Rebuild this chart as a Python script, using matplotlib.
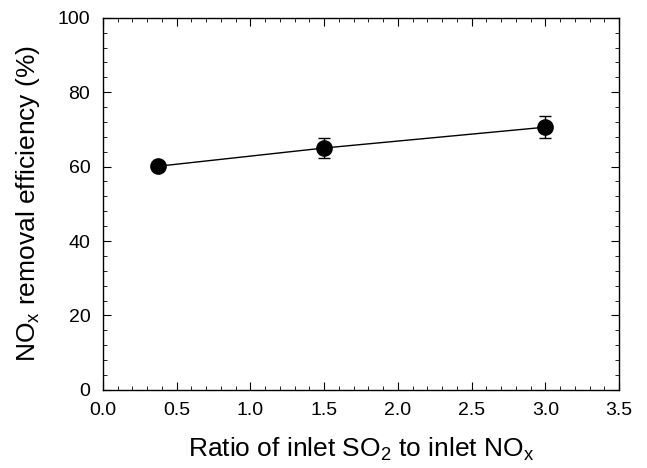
import matplotlib
matplotlib.use('Agg')
import matplotlib.pyplot as plt
from matplotlib.ticker import MultipleLocator

plt.rcParams['font.family'] = ['Liberation Sans', 'DejaVu Sans']

ratio = [0.375, 1.5, 3.0]
efficiency = [60.1, 65.0, 70.6]
err = [1.0, 2.7, 3.0]

fig = plt.figure(figsize=(6.47, 4.68), dpi=100)
ax = fig.add_axes([0.159, 0.167, 0.798, 0.795])

ax.errorbar(ratio, efficiency, yerr=err, fmt='o-', color='black', ms=11,
            lw=1.0, elinewidth=1.0, capsize=4, capthick=1.0)

ax.set_xlim(0, 3.5)
ax.set_ylim(0, 100)
ax.xaxis.set_major_locator(MultipleLocator(0.5))
ax.xaxis.set_minor_locator(MultipleLocator(0.1))
ax.yaxis.set_major_locator(MultipleLocator(20))
ax.yaxis.set_minor_locator(MultipleLocator(4))
ax.tick_params(which='both', direction='in', top=True, right=True, labelsize=14)
ax.tick_params(which='major', length=6)
ax.tick_params(which='minor', length=3)
ax.tick_params(axis='x', pad=9)
ax.tick_params(axis='y', pad=9)
ax.xaxis.set_major_formatter(plt.FormatStrFormatter('%.1f'))
for s in ax.spines.values():
    s.set_linewidth(1.0)

ax.set_xlabel(r'Ratio of inlet SO$\mathregular{_2}$ to inlet NO$\mathregular{_x}$',
              fontsize=19, labelpad=12)
ax.set_ylabel(r'NO$\mathregular{_x}$ removal efficiency (%)', fontsize=19, labelpad=11)

fig.savefig('out.png', dpi=100)
